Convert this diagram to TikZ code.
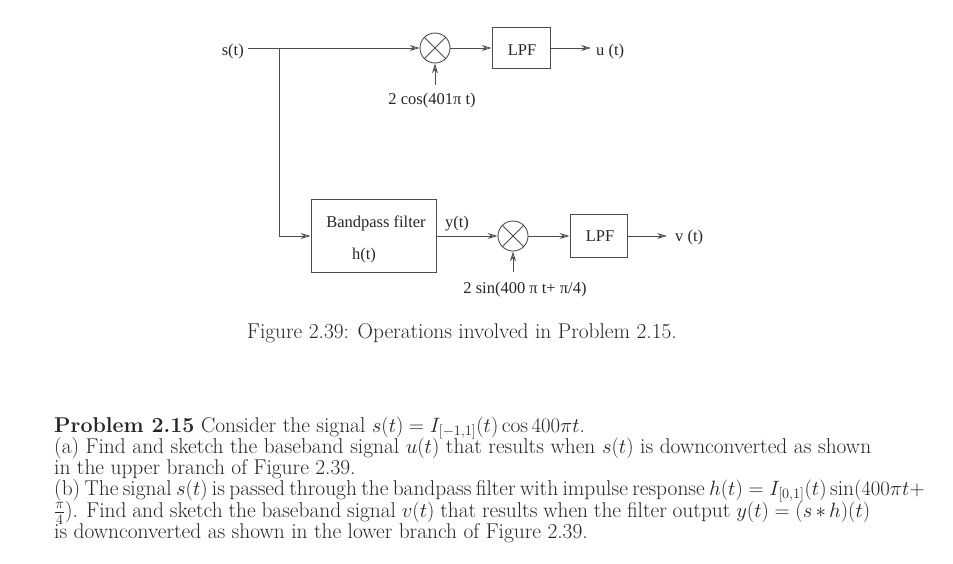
\documentclass[tikz,border=0pt]{standalone}
\usepackage{fontspec}
\newfontfamily\dfont{Liberation Serif}
\usetikzlibrary{arrows.meta}
\tikzset{
  x=1pt,y=-1pt,
  wire/.style={draw=black!70,line width=0.9pt,-{Stealth[length=10pt,width=6pt,inset=3.5pt,open]}},
  plain/.style={draw=black!70,line width=0.9pt},
  blockbox/.style={draw=black!70,line width=0.9pt,inner sep=0pt},
  mixer/.style={circle,draw=black!70,line width=0.9pt,minimum size=30pt,inner sep=0pt},
  lab/.style={font=\dfont\fontsize{16.5}{20}\selectfont,inner sep=0pt,text=black!85,anchor=base},
  para/.style={font=\fontsize{21.4}{21}\selectfont,inner sep=0pt,anchor=base west,text=black!85},
}
\begin{document}
\begin{tikzpicture}
\useasboundingbox (0,0) rectangle (953,563);
% upper branch
\node[lab,anchor=base east] (s) at (244,55) {s(t)};
\coordinate (sout) at (248,48);
\coordinate (j) at (279,48);
\node[mixer] (m1) at (435,48) {};
\node[blockbox,minimum width=58pt,minimum height=41pt] (lpf1) at (521,48) {};
\node[lab] (lpf1t) at (522,55) {LPF};
\coordinate (uend) at (591,48);
\node[lab,anchor=base west] (u) at (596,55) {u (t)};
\node[lab] (c1) at (432,104) {2 cos(401π t)};
\coordinate (c1s) at (435,85);
\draw[plain] (sout) -- (j);
\draw[wire] (j) -- (m1.west);
\draw[wire] (m1.east) -- (lpf1.west);
\draw[wire] (lpf1.east |- uend) -- (uend);
\draw[wire] (c1s) -- (m1.south);
\draw[plain] (m1.45) -- (m1.225) (m1.135) -- (m1.315);
% lower branch
\node[blockbox,minimum width=125pt,minimum height=73pt] (bp) at (373.5,236) {};
\node[lab] (bpt) at (376,227) {Bandpass filter};
\node[lab] (ht) at (364,259) {h(t)};
\node[lab] (yt) at (457,227) {y(t)};
\node[mixer] (m2) at (513,236) {};
\node[blockbox,minimum width=57pt,minimum height=43pt] (lpf2) at (598.5,236) {};
\node[lab] (lpf2t) at (600,241) {LPF};
\coordinate (vend) at (667,236);
\node[lab,anchor=base west] (v) at (675,241) {v (t)};
\node[lab] (c2) at (525,293) {2 sin(400 π t+ π/4)};
\coordinate (c2s) at (513,272);
\draw[wire] (j) |- (bp.west);
\draw[wire] (bp.east) -- (m2.west);
\draw[wire] (m2.east) -- (lpf2.west);
\draw[wire] (lpf2.east |- vend) -- (vend);
\draw[wire] (c2s) -- (m2.south);
\draw[plain] (m2.45) -- (m2.225) (m2.135) -- (m2.315);
% caption
\node[para,anchor=base] (cap) at (462,338) {Figure 2.39: Operations involved in Problem 2.15.};
% problem text
\node[para] (p1) at (54,432) {\textbf{Problem 2.15} Consider the signal $s(t)=I_{[-1,1]}(t)\cos 400\pi t$.};
\node[para] (p2) at (54,453) {\hbox to 817pt{(a) Find and sketch the baseband signal $u(t)$ that results when $s(t)$ is downconverted as shown}};
\node[para] (p3) at (54,474) {in the upper branch of Figure 2.39.};
\node[para] (p4) at (54,495) {\hbox to 869pt{(b) The signal $s(t)$ is passed through the bandpass filter with impulse response $h(t)=I_{[0,1]}(t)\sin(400\pi t+$}};
\node[para] (p5) at (54,517) {\hbox to 816pt{$\frac{\pi}{4}$). Find and sketch the baseband signal $v(t)$ that results when the filter output $y(t)=(s*h)(t)$}};
\node[para] (p6) at (54,538) {is downconverted as shown in the lower branch of Figure 2.39.};
\end{tikzpicture}
\end{document}
